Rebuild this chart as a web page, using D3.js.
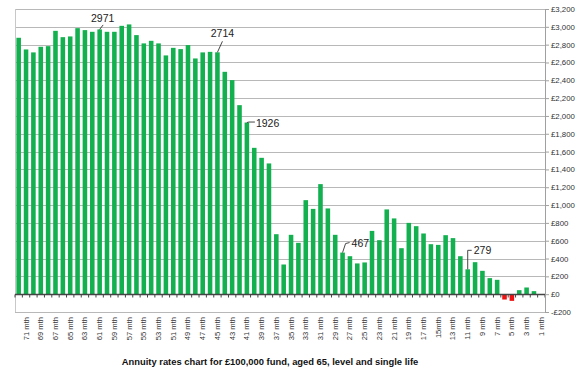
<!DOCTYPE html>
<html><head><meta charset="utf-8">
<script src="https://cdn.jsdelivr.net/npm/d3@7"></script>
<style>body{margin:0;background:#fff}svg{display:block}</style>
</head><body>
<svg id="c" width="582" height="379"></svg>
<script>
const months = d3.range(72, 0, -1);
const categories = months.map(m => m === 15 ? "15mth" : m + " mth");
const values = [2877,2746,2713,2776,2783,2955,2884,2892,2985,2963,2944,2971,2944,2944,3011,3027,2907,2814,2843,2814,
  2679,2764,2750,2795,2645,2713,2719,2714,2495,2402,2121,1926,1642,1530,1467,673,333,666,576,1055,
  957,1235,962,666,467,426,345,356,710,606,951,850,516,800,763,681,561,553,662,629,
  426,279,359,262,180,161,-60,-75,45,75,34,null];
const yTicks = d3.range(-200, 3201, 200);
const labelledMonths = [61, 45, 41, 28, 11];
const title = "Annuity rates chart for £100,000 fund, aged 65, level and single life";

const svg = d3.select("#c");
const L = 15, R = 545, T = 9, B = 312;
const x = d3.scaleBand().domain(categories).range([L, R]).paddingInner(0.38).paddingOuter(0.19);
const y = d3.scaleLinear().domain([-200, 3200]).range([B, T]);

// gridlines
svg.append("g").selectAll("line").data(yTicks).join("line")
  .attr("x1", L).attr("x2", R).attr("y1", d => Math.round(y(d)) + 0.5).attr("y2", d => Math.round(y(d)) + 0.5)
  .attr("stroke", "#b8b8b8").attr("stroke-width", 1);
// plot border left
svg.append("line").attr("x1", L + 0.5).attr("x2", L + 0.5).attr("y1", T).attr("y2", B).attr("stroke", "#c8c8c8");

// bars
const data = categories.map((c, i) => ({c, v: values[i], m: months[i]}));
svg.append("g").selectAll("rect").data(data.filter(d => d.v !== null && d.v !== 0)).join("rect")
  .attr("x", d => x(d.c)).attr("width", x.bandwidth())
  .attr("y", d => y(Math.max(0, d.v))).attr("height", d => Math.abs(y(d.v) - y(0)))
  .attr("fill", d => d.v < 0 ? "#ee1111" : "#12b04f");

// x axis line at zero
const y0 = Math.round(y(0)) + 0.5;
svg.append("line").attr("x1", L).attr("x2", R).attr("y1", y0).attr("y2", y0).attr("stroke", "#444").attr("stroke-width", 1.5);
const step = x.step();
svg.append("g").selectAll("line").data(d3.range(0, 73)).join("line")
  .attr("x1", i => L + i * step).attr("x2", i => L + i * step)
  .attr("y1", y0).attr("y2", y0 + 3).attr("stroke", "#444");

// right y axis
const yAxis = d3.axisRight(y).tickValues(yTicks).tickSize(4).tickPadding(2)
  .tickFormat(d => (d < 0 ? "-£" : "£") + d3.format(",")(Math.abs(d)));
const ga = svg.append("g").attr("transform", `translate(${R},0)`).call(yAxis);
ga.select(".domain").attr("stroke", "#a0a0a0");
ga.selectAll(".tick line").attr("stroke", "#a0a0a0");
ga.selectAll("text").attr("font-family", "Liberation Sans, Arial, sans-serif").attr("font-size", 7.8).attr("fill", "#333");

// x labels
svg.append("g").selectAll("text").data(data.filter(d => d.m % 2 === 1)).join("text")
  .attr("transform", d => `translate(${x(d.c) + x.bandwidth() / 2 + 2.5},317) rotate(-90)`)
  .attr("text-anchor", "end")
  .attr("font-family", "Liberation Sans, Arial, sans-serif").attr("font-size", 7.6).attr("fill", "#333")
  .text(d => d.c);

// data labels with leader lines
const lab = svg.append("g").attr("font-family", "Liberation Sans, Arial, sans-serif").attr("font-size", 10.5).attr("fill", "#222");
const place = {
  61: {pts: [[0, 0], [3.5, -4.5]], tx: 3, ty: -7, anchor: "middle"},
  45: {pts: [[0, 0], [5, -11]], tx: 5, ty: -15, anchor: "middle"},
  41: {pts: [[0, 0], [2, -0.5], [8, -0.5]], tx: 9, ty: 4, anchor: "start"},
  28: {pts: [[0, 0], [3, -9], [7, -10]], tx: 9, ty: -6, anchor: "start"},
  11: {pts: [[0, 0], [0, -19], [4, -19]], tx: 6, ty: -15, anchor: "start"}
};
labelledMonths.forEach(m => {
  const d = data.find(e => e.m === m);
  const bx = x(d.c) + x.bandwidth() / 2, by = y(d.v);
  const p = place[m];
  lab.append("path").attr("d", d3.line()(p.pts.map(q => [bx + q[0], by + q[1]])))
    .attr("fill", "none").attr("stroke", "#333").attr("stroke-width", 0.9);
  lab.append("text").attr("x", bx + p.tx).attr("y", by + p.ty).attr("text-anchor", p.anchor).text(d.v);
});

// title
svg.append("text").attr("x", 270).attr("y", 365).attr("text-anchor", "middle")
  .attr("font-family", "Liberation Sans, Arial, sans-serif").attr("font-weight", "bold").attr("font-size", 9.4)
  .attr("fill", "#111").text(title);
</script>
</body></html>
